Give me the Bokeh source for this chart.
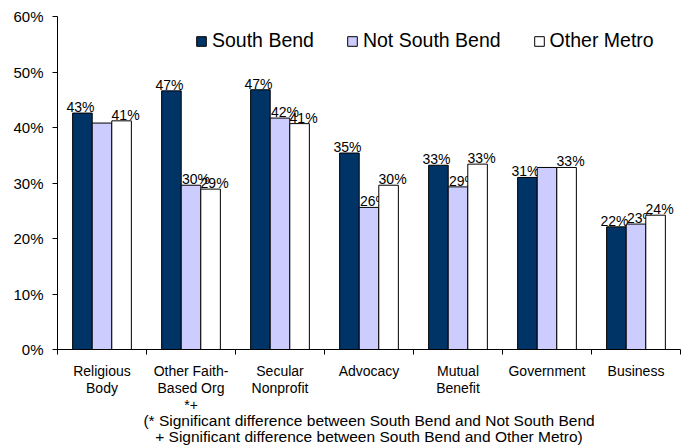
from bokeh.plotting import figure
from bokeh.models import ColumnDataSource, FixedTicker, PrintfTickFormatter
from bokeh.transform import dodge
from bokeh.core.properties import value
from bokeh.embed import file_html
from bokeh.resources import INLINE

categories = ["Religious\nBody", "Other Faith-\nBased Org\n*+", "Secular\nNonprofit",
              "Advocacy", "Mutual\nBenefit", "Government", "Business"]
series_names = ["South Bend", "Not South Bend", "Other Metro"]
south_bend = [42.6, 46.6, 46.8, 35.4, 33.2, 31.0, 22.1]
not_south_bend = [40.8, 29.6, 41.7, 25.6, 29.3, 32.8, 22.6]
other_metro = [41.2, 28.9, 40.7, 29.6, 33.4, 32.8, 24.2]
sb_labels = ["43%", "47%", "47%", "35%", "33%", "31%", "22%"]
nsb_labels = ["", "30%", "42%", "26%", "29%", "", "23%"]
om_labels = ["41%", "29%", "41%", "30%", "33%", "33%", "24%"]
y_ticks = [0, 10, 20, 30, 40, 50, 60]
footnote = ("(* Significant difference between South Bend and Not South Bend\n"
            "+ Significant difference between South Bend and Other Metro)")

FONT_NAME = "Liberation Sans"
FONT = value(FONT_NAME)
colors = ["#003366", "#CCCCFF", "#FFFFFF"]
n = len(categories)
xs = list(range(n))
centers = [float(i) for i in xs]
bounds = [i - 0.5 for i in range(n + 1)]

src = ColumnDataSource(dict(x=xs, sb=south_bend, nsb=not_south_bend, om=other_metro,
                            sbl=sb_labels, nsbl=nsb_labels, oml=om_labels))

p = figure(width=683, height=447, x_range=(-0.5, n - 0.5), y_range=(0, 60),
           output_backend="svg", toolbar_location=None,
           min_border_left=57, min_border_right=3, min_border_top=16, min_border_bottom=0)
p.outline_line_color = None
p.xgrid.grid_line_color = None
p.ygrid.grid_line_color = None
p.background_fill_color = "white"
p.border_fill_color = "white"

bw = 0.22
offs = [-bw, 0.0, bw]
label_shift = [-2, 5, 4]
cols = ["sb", "nsb", "om"]
lcols = ["sbl", "nsbl", "oml"]
for name, col, lcol, off, c, sh in zip(series_names, cols, lcols, offs, colors, label_shift):
    p.vbar(x=dodge("x", off, range=p.x_range), top=col, width=bw, source=src,
           fill_color=c, line_color="#000000", line_width=1, legend_label=name)
    p.text(x=dodge("x", off, range=p.x_range), y=col, text=lcol, source=src,
           text_align="center", text_baseline="alphabetic", y_offset=-6, x_offset=sh,
           text_font=FONT, text_font_size="14px", text_color="#000000")

# y axis
ya = p.yaxis[0]
ya.ticker = FixedTicker(ticks=y_ticks)
ya.formatter = PrintfTickFormatter(format="%d%%")
ya.major_tick_out = 5
ya.major_tick_in = 0
ya.minor_tick_out = 0
ya.minor_tick_in = 0
ya.major_label_standoff = 9
ya.major_label_text_font = FONT_NAME
ya.major_label_text_font_size = "15px"
ya.major_label_text_color = "#000000"
ya.axis_line_color = "#000000"
ya.major_tick_line_color = "#000000"

# x axis
xa = p.xaxis[0]
xa.ticker = FixedTicker(ticks=centers, minor_ticks=bounds)
xa.major_label_overrides = {c: lab for c, lab in zip(centers, categories)}
xa.major_tick_out = 0
xa.major_tick_in = 0
xa.minor_tick_out = 5
xa.minor_tick_in = 0
xa.minor_tick_line_color = "#000000"
xa.axis_line_color = "#000000"
xa.major_label_standoff = 8
xa.major_label_text_font = FONT_NAME
xa.major_label_text_font_size = "14px"
xa.major_label_text_line_height = 1.07
xa.major_label_text_color = "#000000"
xa.axis_label = footnote
xa.axis_label_standoff = -4
xa.axis_label_text_font = FONT_NAME
xa.axis_label_text_font_size = "15.5px"
xa.axis_label_text_font_style = "normal"
xa.axis_label_text_line_height = 0.93
xa.axis_label_text_color = "#000000"

lg = p.legend[0]
lg.orientation = "horizontal"
lg.location = (138, 297)
lg.glyph_width = 12
lg.glyph_height = 12
lg.label_standoff = 5
lg.spacing = 32
lg.padding = 0
lg.margin = 0
lg.border_line_color = None
lg.background_fill_alpha = 0
lg.label_text_font = FONT_NAME
lg.label_text_font_size = "19.5px"
lg.label_text_color = "#000000"

open("out.html", "w").write(file_html(p, INLINE))
